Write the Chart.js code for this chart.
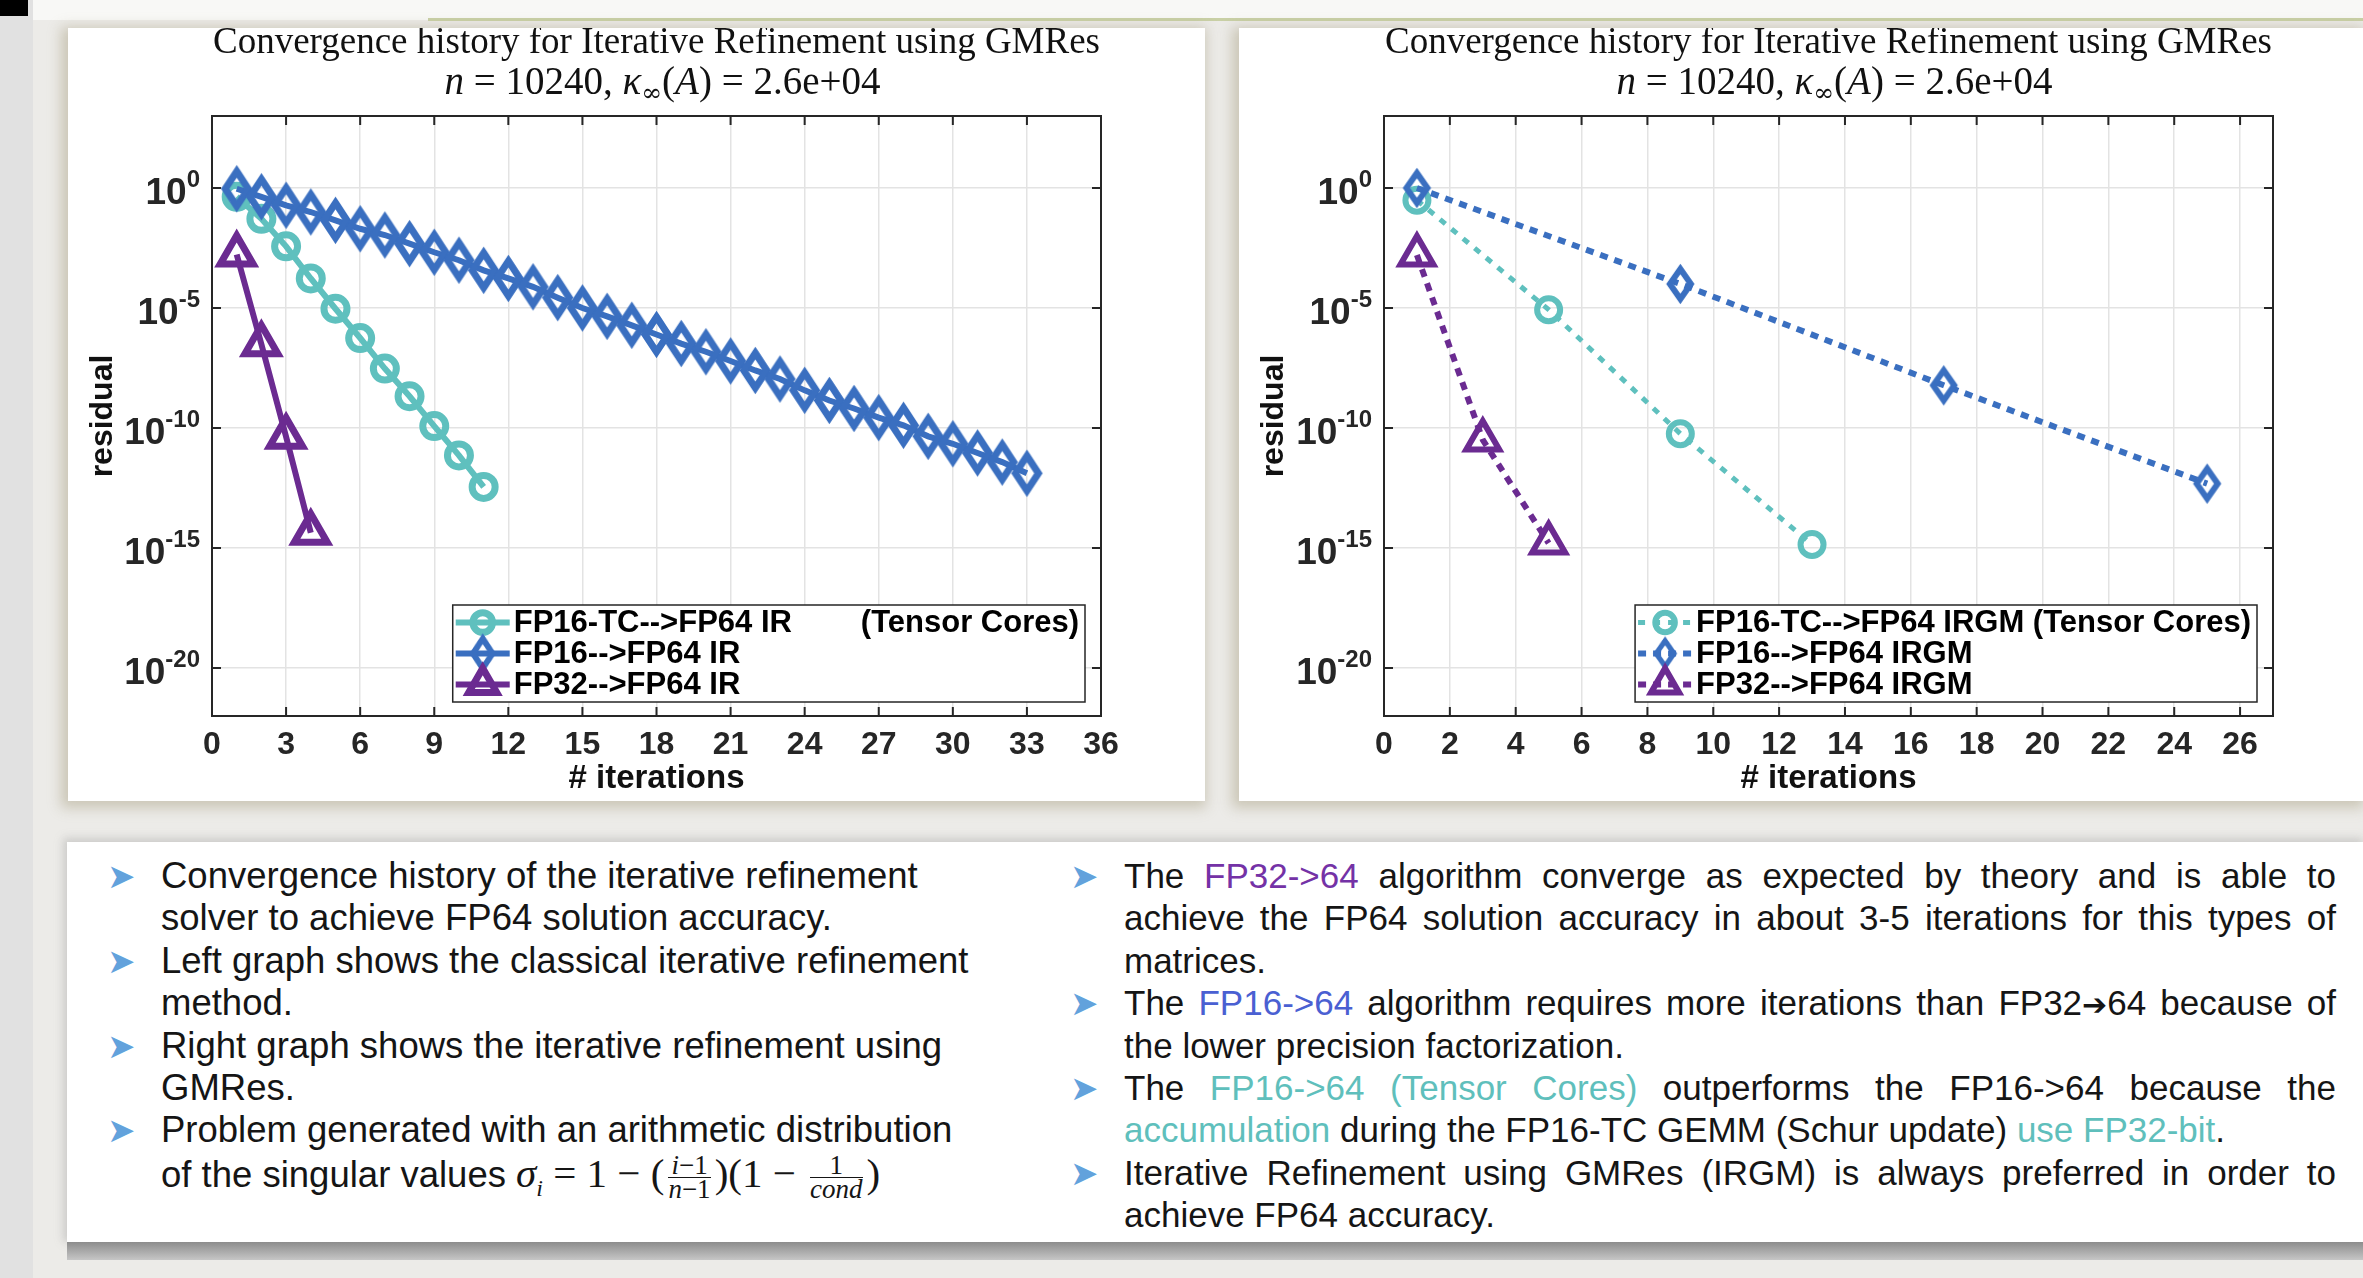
<!DOCTYPE html>
<html>
<head>
  <meta charset="UTF-8">
  <title>Convergence history for Iterative Refinement using GMRes</title>
  <script src="https://cdn.jsdelivr.net/npm/chart.js"></script>
  <style>
    body { margin: 0; width: 2363px; height: 1278px; position: relative; overflow: hidden;
           background: #ecebe8; font-family: "Liberation Sans", Arial, sans-serif; }
    #strip { position: absolute; left: 0; top: 0; width: 33px; height: 1278px; background: #e1e1e1; }
    #corner { position: absolute; left: 0; top: 0; width: 28px; height: 16px; background: #000; }
    #topband { position: absolute; left: 33px; top: 0; right: 0; height: 20px; background: #f8f8f6; }
    #topline { position: absolute; left: 428px; top: 18px; right: 0; height: 3px; background: #c9d0a6; }
    .card { position: absolute; background: #fff; box-shadow: -3px 3px 12px 4px rgba(165,155,125,0.45); }
    #cardL { left: 68px; top: 28px; width: 1137px; height: 773px; }
    #cardR { left: 1239px; top: 28px; width: 1124px; height: 773px; }
    .card canvas { position: absolute; left: 0; top: 0; }
    #notes { position: absolute; left: 67px; top: 842px; width: 2296px; height: 400px; background: #fff;
             box-shadow: -2px -2px 8px 2px rgba(150,150,150,0.35); color: #151515; font-size: 35px; }
    #notesBar { position: absolute; left: 67px; top: 1242px; width: 2296px; height: 18px;
                background: linear-gradient(#8c8c8c, #c6c6c6); }
    .col { position: absolute; top: 13px; }
    #colL { left: 94px; font-size: 36.5px; }
    #colR { left: 1057px; width: 1212px; }
    .item { position: relative; }
    .item::before { content: "\27A4"; position: absolute; left: -54px; top: 0; line-height: 42.4px;
                    color: #62a2dc; font-family: "DejaVu Sans", sans-serif; font-size: 34px; }
    .ln { height: 42.4px; line-height: 42.4px; white-space: nowrap; }
    .j { text-align: justify; text-align-last: justify; }
    .p { color: #7432a6; }
    .b { color: #4a60d2; }
    .t { color: #5fbfbc; }
    .arr { font-family: "DejaVu Sans", sans-serif; font-size: 30px; }
    .m { font-family: "Liberation Serif", serif; font-size: 41px; }
    .fr { display: inline-flex; flex-direction: column; vertical-align: middle; font-size: 27px;
          line-height: 23px; text-align: center; margin: 0 4px; }
    .fr span:first-child { border-bottom: 1.5px solid #151515; padding: 0 3px; }
  </style>
</head>
<body>
  <div id="strip"></div>
  <div id="topband"></div>
  <div id="corner"></div>
  <div id="topline"></div>
  <div class="card" id="cardL"><canvas id="chartL" width="1137" height="773"></canvas></div>
  <div class="card" id="cardR"><canvas id="chartR" width="1124" height="773"></canvas></div>

  <div id="notes">
    <div class="col" id="colL">
      <div class="item"><div class="ln">Convergence history of the iterative refinement</div><div class="ln">solver to achieve FP64 solution accuracy.</div></div>
      <div class="item"><div class="ln">Left graph shows the classical iterative refinement</div><div class="ln">method.</div></div>
      <div class="item"><div class="ln">Right graph shows the iterative refinement using</div><div class="ln">GMRes.</div></div>
      <div class="item"><div class="ln">Problem generated with an arithmetic distribution</div><div class="ln">of the singular values <span class="m"><i>σ<sub style="font-size:24px">i</sub></i> = 1 − (<span class="fr"><span><i>i</i>−1</span><span><i>n</i>−1</span></span>)(1 − <span class="fr"><span>1</span><span><i>cond</i></span></span>)</span></div></div>
    </div>
    <div class="col" id="colR">
      <div class="item"><div class="ln j">The <span class="p">FP32-&gt;64</span> algorithm converge as expected by theory and is able to</div><div class="ln j">achieve the FP64 solution accuracy in about 3-5 iterations for this types of</div><div class="ln">matrices.</div></div>
      <div class="item"><div class="ln j">The <span class="b">FP16-&gt;64</span> algorithm requires more iterations than FP32<span class="arr">➔</span>64 because of</div><div class="ln">the lower precision factorization.</div></div>
      <div class="item"><div class="ln j">The <span class="t">FP16-&gt;64 (Tensor Cores)</span> outperforms the FP16-&gt;64 because the</div><div class="ln"><span class="t">accumulation</span> during the FP16-TC GEMM (Schur update) <span class="t">use FP32-bit</span>.</div></div>
      <div class="item"><div class="ln j">Iterative Refinement using GMRes (IRGM) is always preferred in order to</div><div class="ln">achieve FP64 accuracy.</div></div>
    </div>
  </div>
  <div id="notesBar"></div>

  <script>
    // ---- data ----
    const titleLine1 = "Convergence history for Iterative Refinement using GMRes";
    const titleLine2 = [["n", "i"], [" = 10240, ", ""], ["κ", "i"], ["∞", "s"], ["(", ""], ["A", "i"], [") = 2.6e+04", ""]];
    const yTickVals = [1e0, 1e-5, 1e-10, 1e-15, 1e-20];

    // left: classical iterative refinement
    const irLabels = ["FP16-TC-->FP64 IR        (Tensor Cores)", "FP16-->FP64 IR", "FP32-->FP64 IR"];
    const irIterTC = [1, 2, 3, 4, 5, 6, 7, 8, 9, 10, 11];
    const irResTC = [4.3e-1, 5.2e-2, 3.7e-3, 1.7e-4, 9.3e-6, 5.6e-7, 3.0e-8, 2.1e-9, 1.2e-10, 7.2e-12, 3.5e-13];
    const irIterFP16 = [1, 2, 3, 4, 5, 6, 7, 8, 9, 10, 11, 12, 13, 14, 15, 16, 17, 18, 19, 20, 21, 22, 23, 24, 25, 26, 27, 28, 29, 30, 31, 32, 33];
    const irResFP16 = [9.3e-1, 4.3e-1, 1.9e-1, 1.0e-1, 4.5e-2, 2.0e-2, 1.1e-2, 4.8e-3, 2.1e-3, 9.8e-4, 3.7e-4,
                       1.7e-4, 7.6e-5, 2.7e-5, 1.0e-5, 4.5e-6, 1.9e-6, 7.9e-7, 3.3e-7, 1.5e-7, 6.2e-8, 2.5e-8,
                       1.1e-8, 3.7e-9, 1.4e-9, 6.5e-10, 2.7e-10, 1.3e-10, 4.5e-11, 2.2e-11, 9.1e-12, 3.8e-12, 1.3e-12];
    const irIterFP32 = [1, 2, 3, 4];
    const irResFP32 = [1.7e-3, 3.1e-7, 4.3e-11, 4.3e-15];

    // right: iterative refinement using GMRes
    const gmLabels = ["FP16-TC-->FP64 IRGM (Tensor Cores)", "FP16-->FP64 IRGM", "FP32-->FP64 IRGM"];
    const gmIterTC = [1, 5, 9, 13];
    const gmResTC = [3.1e-1, 8.5e-6, 5.8e-11, 1.4e-15];
    const gmIterFP16 = [1, 9, 17, 25];
    const gmResFP16 = [1.0e0, 1.0e-4, 6.0e-9, 4.8e-13];
    const gmIterFP32 = [1, 3, 5];
    const gmResFP32 = [1.6e-3, 3.2e-11, 1.6e-15];

    // ---- styles ----
    const colTC = "#5fc0be", colFP16 = "#3a6fc0", colFP32 = "#6b2b91";
    const axisInk = "#262626";
    const sansBold = (s) => "bold " + s + 'px "Liberation Sans", Arial, sans-serif';

    // MATLAB's diamond markers come out tall and narrow on this slide
    function diamondImg(hw, hh, lw, color) {
      const c = document.createElement("canvas");
      c.width = Math.ceil(2 * hw + 2 * lw + 2);
      c.height = Math.ceil(2 * hh + 2 * lw + 2);
      const g = c.getContext("2d");
      const cx = c.width / 2, cy = c.height / 2;
      g.strokeStyle = color;
      g.lineWidth = lw;
      g.beginPath();
      g.moveTo(cx, cy - hh); g.lineTo(cx + hw, cy); g.lineTo(cx, cy + hh); g.lineTo(cx - hw, cy);
      g.closePath();
      g.stroke();
      return c;
    }

    function series(label, xs, ys, color, style, radius, lineW, markW, dash, order) {
      return {
        label, order,
        data: xs.map((x, i) => ({ x, y: ys[i] })),
        borderColor: color, borderWidth: lineW, borderDash: dash, borderCapStyle: "butt",
        pointStyle: style, pointRadius: radius, pointHoverRadius: radius,
        pointBorderColor: color, pointBackgroundColor: "rgba(0,0,0,0)", pointBorderWidth: markW,
        tension: 0, fill: false, clip: false
      };
    }

    function marker(ctx, style, x, y, r) {
      if (typeof style === "object") {
        const w = style.width * 0.85, h = style.height * 0.85;
        ctx.drawImage(style, x - w / 2, y - h / 2, w, h);
        return;
      }
      ctx.beginPath();
      if (style === "circle") ctx.arc(x, y, r, 0, Math.PI * 2);
      else { ctx.moveTo(x, y - r); ctx.lineTo(x + 0.866 * r, y + 0.5 * r); ctx.lineTo(x - 0.866 * r, y + 0.5 * r); ctx.closePath(); }
      ctx.stroke();
    }

    // axes box + inward tick marks (MATLAB look)
    const frame = {
      id: "frame",
      beforeDatasetsDraw(chart) {
        const { ctx, chartArea: a, scales: { x, y } } = chart;
        ctx.save();
        ctx.strokeStyle = axisInk;
        ctx.lineWidth = 2;
        ctx.strokeRect(a.left, a.top, a.width, a.height);
        ctx.beginPath();
        x.ticks.forEach(t => {
          const px = x.getPixelForValue(t.value);
          ctx.moveTo(px, a.bottom); ctx.lineTo(px, a.bottom - 9);
          ctx.moveTo(px, a.top); ctx.lineTo(px, a.top + 9);
        });
        y.ticks.forEach(t => {
          const py = y.getPixelForValue(t.value);
          ctx.moveTo(a.left, py); ctx.lineTo(a.left + 9, py);
          ctx.moveTo(a.right, py); ctx.lineTo(a.right - 9, py);
        });
        ctx.stroke();
        ctx.restore();
      }
    };

    // 10^k tick labels with a raised exponent
    const powLabels = {
      id: "powLabels",
      afterDraw(chart, args, o) {
        const { ctx, chartArea: a, scales: { y } } = chart;
        ctx.save();
        ctx.fillStyle = axisInk;
        ctx.textAlign = "right";
        ctx.textBaseline = "alphabetic";
        y.ticks.forEach(t => {
          const py = y.getPixelForValue(t.value);
          const exp = String(Math.round(Math.log10(t.value)));
          ctx.font = sansBold(24);
          const ew = ctx.measureText(exp).width;
          ctx.fillText(exp, a.left - o.gap, py - 1);
          ctx.font = sansBold(37);
          ctx.fillText("10", a.left - o.gap - ew, py + 16);
        });
        ctx.restore();
      }
    };

    // two-line LaTeX-style title above the axes
    const richTitle = {
      id: "richTitle",
      afterDraw(chart) {
        const { ctx, chartArea: a } = chart;
        const cx = (a.left + a.right) / 2;
        ctx.save();
        ctx.fillStyle = "#111";
        ctx.textBaseline = "alphabetic";
        ctx.textAlign = "center";
        ctx.font = '38px "Liberation Serif", serif';
        ctx.fillText(titleLine1, cx, a.top - 63, a.width - 2);
        ctx.textAlign = "left";
        const fonts = { "": '39px "Liberation Serif", serif', i: 'italic 39px "Liberation Serif", serif', s: '25px "DejaVu Serif", serif' };
        let total = 0;
        titleLine2.forEach(([t, k]) => { ctx.font = fonts[k]; total += ctx.measureText(t).width; });
        let x = cx - total / 2 + 6;
        titleLine2.forEach(([t, k]) => {
          ctx.font = fonts[k];
          ctx.fillText(t, x, a.top - 22 + (k === "s" ? 7 : 0));
          x += ctx.measureText(t).width;
        });
        ctx.restore();
      }
    };

    // boxed legend in the lower right corner of the axes
    const boxLegend = {
      id: "boxLegend",
      afterDraw(chart, args, o) {
        const { ctx, chartArea: a } = chart;
        const sets = chart.data.datasets;
        ctx.save();
        ctx.font = o.font;
        const textW = Math.max(...sets.map(d => ctx.measureText(d.label).width));
        const w = 3 + o.sample + 4 + textW + 6;
        const h = o.rowH * sets.length + o.padY * 2;
        const x0 = a.right - o.right - w, y0 = a.bottom - o.bottom - h;
        ctx.fillStyle = "#fff";
        ctx.fillRect(x0, y0, w, h);
        ctx.strokeStyle = axisInk;
        ctx.lineWidth = 1.5;
        ctx.strokeRect(x0, y0, w, h);
        sets.forEach((d, i) => {
          const cy = y0 + o.padY + o.rowH * (i + 0.5);
          ctx.strokeStyle = d.borderColor;
          ctx.lineWidth = d.borderWidth;
          ctx.setLineDash(d.borderDash || []);
          ctx.beginPath();
          ctx.moveTo(x0 + 3, cy);
          ctx.lineTo(x0 + 3 + o.sample, cy);
          ctx.stroke();
          ctx.setLineDash([]);
          ctx.lineWidth = d.pointBorderWidth;
          marker(ctx, d.pointStyle, x0 + 3 + o.sample / 2, cy, d.pointRadius * 0.85);
          ctx.fillStyle = "#000";
          ctx.textBaseline = "middle";
          ctx.fillText(d.label, x0 + 7 + o.sample, cy + 1);
        });
        ctx.restore();
      }
    };

    function makeChart(id, datasets, xMax, xStep, axisW, padRight) {
      return new Chart(document.getElementById(id), {
        type: "line",
        data: { datasets },
        plugins: [frame, powLabels, richTitle, boxLegend],
        options: {
          responsive: false,
          animation: false,
          layout: { padding: { top: 88, right: padRight, left: 0, bottom: 0 } },
          plugins: {
            legend: { display: false },
            tooltip: { enabled: false },
            title: { display: false },
            powLabels: { gap: 12 },
            boxLegend: { font: sansBold(31), sample: 54, rowH: 31, padY: 2, right: 16, bottom: 14 }
          },
          scales: {
            x: {
              type: "linear", min: 0, max: xMax,
              ticks: { stepSize: xStep, includeBounds: false, autoSkip: false, maxRotation: 0,
                       font: { family: '"Liberation Sans", Arial', size: 32, weight: "bold" }, color: axisInk, padding: 10 },
              grid: { color: "#e3e3e3", lineWidth: 1.5, drawTicks: false },
              border: { display: false },
              title: { display: true, text: "# iterations", color: "#111",
                       font: { family: '"Liberation Sans", Arial', size: 33, weight: "bold" }, padding: { top: 0, bottom: 2 } },
              afterFit: s => { s.height = 85; }
            },
            y: {
              type: "logarithmic", min: 1e-22, max: 1e3,
              afterBuildTicks: s => { s.ticks = yTickVals.map(v => ({ value: v })); },
              ticks: { display: false },
              grid: { color: "#e3e3e3", lineWidth: 1.5, drawTicks: false },
              border: { display: false },
              title: { display: true, text: "residual", color: "#111",
                       font: { family: '"Liberation Sans", Arial', size: 32, weight: "bold" }, padding: { top: 16, bottom: 0 } },
              afterFit: s => { s.width = axisW; }
            }
          }
        }
      });
    }

    makeChart("chartL", [
      series(irLabels[0], irIterTC, irResTC, colTC, "circle", 11.5, 6, 7, [], 3),
      series(irLabels[1], irIterFP16, irResFP16, colFP16, diamondImg(11.5, 17.5, 7, colFP16), 14, 6, 7, [], 2),
      series(irLabels[2], irIterFP32, irResFP32, colFP32, "triangle", 19, 6, 7, [], 1)
    ], 36, 3, 144, 104);

    makeChart("chartR", [
      series(gmLabels[0], gmIterTC, gmResTC, colTC, "circle", 11.5, 5, 6, [7, 8], 3),
      series(gmLabels[1], gmIterFP16, gmResFP16, colFP16, diamondImg(10.5, 15, 6, colFP16), 14, 6, 6, [8, 7], 2),
      series(gmLabels[2], gmIterFP32, gmResFP32, colFP32, "triangle", 19, 6, 6, [8, 7], 1)
    ], 27, 2, 145, 90);
  </script>
</body>
</html>
